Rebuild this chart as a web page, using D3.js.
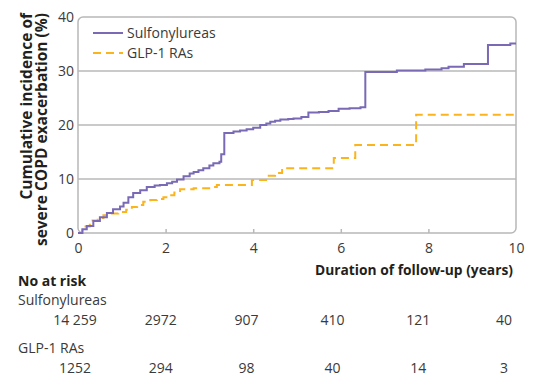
<!DOCTYPE html>
<html>
<head>
<meta charset="utf-8">
<script src="https://cdn.jsdelivr.net/npm/d3@7"></script>
<style>
  body { margin: 0; background: #fff; }
  text { font-family: "Open Sans", sans-serif; }
</style>
</head>
<body>
<div id="chart"></div>
<script>
// cumulative incidence (%) by year of follow-up
let sulfonylureas = [[0, 0], [0.1, 0.7], [0.2, 1.3], [0.35, 2.2], [0.5, 2.9], [0.66, 3.7], [0.8, 4.4],
    [0.96, 4.9], [1.04, 5.6], [1.15, 6.6], [1.26, 7.4], [1.42, 7.9], [1.57, 8.5], [1.75, 8.8],
    [1.87, 8.9], [2.03, 9.2], [2.15, 9.5], [2.26, 9.9], [2.41, 10.5], [2.55, 11.0], [2.64, 11.3],
    [2.75, 11.6], [2.86, 12.0], [3.0, 12.5], [3.09, 12.9], [3.23, 13.2], [3.27, 14.6], [3.34, 18.5],
    [3.55, 18.8], [3.7, 19.0], [3.85, 19.2], [4.0, 19.5], [4.16, 20.0], [4.3, 20.3], [4.39, 20.6],
    [4.5, 20.8], [4.62, 21.0], [4.8, 21.1], [4.92, 21.2], [5.1, 21.5], [5.26, 22.3], [5.5, 22.4],
    [5.72, 22.6], [5.95, 23.0], [6.2, 23.1], [6.45, 23.3], [6.56, 29.8], [7.28, 30.1], [7.93, 30.3],
    [8.3, 30.5], [8.46, 30.8], [8.81, 31.3], [9.36, 34.8], [9.87, 35.1], [10, 35.1]];
let glp1 = [[0, 0], [0.1, 1.2], [0.27, 2.3], [0.45, 2.8], [0.58, 3.3], [0.75, 3.6], [0.92, 3.9],
    [1.1, 4.3], [1.23, 4.8], [1.35, 5.2], [1.49, 5.8], [1.65, 6.1], [1.8, 6.3], [1.95, 6.6],
    [2.1, 7.0], [2.2, 7.5], [2.33, 8.1], [2.64, 8.3], [3.09, 8.5], [3.17, 8.9], [3.97, 9.8],
    [4.33, 10.6], [4.5, 11.1], [4.66, 12.0], [5.84, 13.9], [6.33, 16.3], [7.72, 21.9], [10, 21.9]];

let seriesNames = ["Sulfonylureas", "GLP-1 RAs"];
let xTicks = [0, 2, 4, 6, 8, 10];
let yTicks = [0, 10, 20, 30, 40];
let riskTimes = [0, 2, 4, 6, 8, 10];
let riskSulf = ["14 259", "2972", "907", "410", "121", "40"];
let riskGlp = ["1252", "294", "98", "40", "14", "3"];

let colSulf = "#7a69b4";
let colGlp = "#fbb41c";

let svg = d3.select('#chart')
    .append('svg')
    .attr('width', 534)
    .attr('height', 387);

let x = d3.scaleLinear().domain([0, 10]).range([78, 516]);
let y = d3.scaleLinear().domain([0, 40]).range([233, 17]);
// the at-risk numbers sit a bit inside the tick positions
let xRisk = d3.scaleLinear().domain([0, 10]).range([75, 504]);

// gridlines
svg.append('g')
    .selectAll('line')
    .data(yTicks.filter(d => d > 0 && d < 40))
    .enter().append('line')
    .attr('x1', x(0)).attr('x2', x(10))
    .attr('y1', d => y(d)).attr('y2', d => y(d))
    .attr('stroke', '#b8b8b8')
    .attr('stroke-width', 1.5);

// frame
svg.append('rect')
    .attr('x', x(0)).attr('y', y(40))
    .attr('width', x(10) - x(0)).attr('height', y(0) - y(40))
    .attr('rx', 5)
    .attr('fill', 'none')
    .attr('stroke', '#b8b8b8')
    .attr('stroke-width', 1.5);

// x axis, ticks inside
let xAxis = d3.axisBottom(x)
    .tickValues(xTicks)
    .tickSize(0)
    .tickPadding(10);
let gx = svg.append('g')
    .attr('transform', 'translate(0,' + y(0) + ')')
    .call(xAxis);
gx.select('.domain').remove();
gx.selectAll('.tick').append('line')
    .attr('y1', 0).attr('y2', d => (d > 0 && d < 10) ? -4 : 0)
    .attr('stroke', '#b8b8b8').attr('stroke-width', 1.5);
gx.selectAll('text')
    .attr('font-size', 14).attr('fill', '#3a3a3a').attr('font-family', '"Open Sans", sans-serif');

let yAxis = d3.axisLeft(y)
    .tickValues(yTicks)
    .tickSize(0)
    .tickPadding(4);
let gy = svg.append('g')
    .attr('transform', 'translate(' + x(0) + ',0)')
    .call(yAxis);
gy.select('.domain').remove();
gy.selectAll('text')
    .attr('font-size', 14).attr('fill', '#3a3a3a').attr('font-family', '"Open Sans", sans-serif');

// y title
let yTitle = svg.append('text')
    .attr('transform', 'translate(32,13) rotate(-90)')
    .attr('text-anchor', 'end')
    .attr('font-size', 15.5)
    .attr('font-weight', 'bold')
    .attr('fill', '#231f20');
yTitle.append('tspan').attr('x', 0).attr('dy', 0).text('Cumulative incidence of');
yTitle.append('tspan').attr('x', 0).attr('dy', 14.5).text('severe COPD exacerbation (%)');

// curves
let line = d3.line()
    .x(d => x(d[0]))
    .y(d => y(d[1]))
    .curve(d3.curveStepAfter);

svg.append('path')
    .attr('d', line(glp1))
    .attr('fill', 'none')
    .attr('stroke', colGlp)
    .attr('stroke-width', 2)
    .attr('stroke-dasharray', '8,5');

svg.append('path')
    .attr('d', line(sulfonylureas))
    .attr('fill', 'none')
    .attr('stroke', colSulf)
    .attr('stroke-width', 2);

// legend
let legend = svg.append('g');
seriesNames.forEach(function (name, i) {
    let ly = 33 + i * 20;
    legend.append('line')
        .attr('x1', 93).attr('x2', 123)
        .attr('y1', ly).attr('y2', ly)
        .attr('stroke', i == 0 ? colSulf : colGlp)
        .attr('stroke-width', 2)
        .attr('stroke-dasharray', i == 0 ? null : '8,5');
    legend.append('text')
        .attr('x', 127).attr('y', ly)
        .attr('dy', '0.35em')
        .attr('font-size', 14)
        .attr('fill', '#3a3a3a')
        .text(name);
});

// x title
svg.append('text')
    .attr('x', 513).attr('y', 270)
    .attr('dy', '0.35em')
    .attr('text-anchor', 'end')
    .attr('font-size', 13.8)
    .attr('font-weight', 'bold')
    .attr('fill', '#231f20')
    .text('Duration of follow-up (years)');

// number at risk table
svg.append('text')
    .attr('x', 18).attr('y', 281)
    .attr('dy', '0.35em')
    .attr('font-size', 14)
    .attr('font-weight', 'bold')
    .attr('fill', '#231f20')
    .text('No at risk');

let rows = [
    { label: seriesNames[0], values: riskSulf, y: 300 },
    { label: seriesNames[1], values: riskGlp, y: 348 }
];
rows.forEach(function (r) {
    svg.append('text')
        .attr('x', 18).attr('y', r.y)
        .attr('dy', '0.35em')
        .attr('font-size', 14)
        .attr('fill', '#3a3a3a')
        .text(r.label);
    svg.append('g')
        .selectAll('text')
        .data(r.values)
        .enter().append('text')
        .attr('x', (d, i) => xRisk(riskTimes[i]))
        .attr('y', r.y + 20)
        .attr('dy', '0.35em')
        .attr('text-anchor', 'middle')
        .attr('font-size', 14)
        .attr('fill', '#3a3a3a')
        .text(d => d);
});
</script>
</body>
</html>
